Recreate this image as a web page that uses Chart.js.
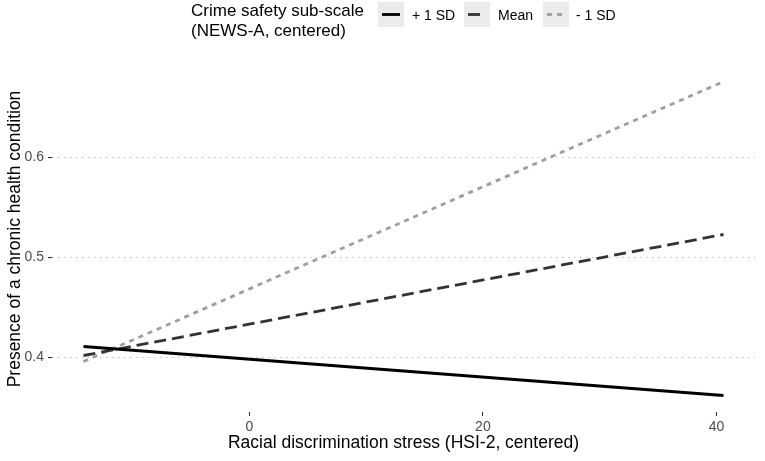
<!DOCTYPE html>
<html>
<head>
<meta charset="utf-8">
<script src="https://cdn.jsdelivr.net/npm/chart.js@4.4.0/dist/chart.umd.min.js"></script>
<style>
  html, body { margin: 0; padding: 0; background: #fff; }
  #wrap { width: 765px; height: 461px; position: relative; }
</style>
</head>
<body>
<div id="wrap"><canvas id="chart"></canvas></div>
<script>
// Racial discrimination stress (x) at the two ends of each fitted line
var stressValues = [-14.2, 40.6];
// Predicted presence of a chronic health condition
var plusOneSD = [0.411, 0.362];
var meanLevel = [0.402, 0.523];
var minusOneSD = [0.396, 0.676];
var seriesLabels = ["+ 1 SD", "Mean", "- 1 SD"];
var xTicks = [0, 20, 40];
var yTicks = [0.4, 0.5, 0.6];

var font = "'Liberation Sans', Arial, Helvetica, sans-serif";

function toPoints(ys) {
  return stressValues.map(function (x, i) {
    return { x: x, y: ys[i] };
  });
}

// Legend drawn like the ggplot one: title on the left, grey key boxes
var ggLegend = {
  id: "ggLegend",
  afterDraw: function (chart) {
    var ctx = chart.ctx;
    ctx.save();
    ctx.fillStyle = "#000";
    ctx.font = "17px " + font;
    ctx.textAlign = "left";
    ctx.textBaseline = "alphabetic";
    ctx.fillText("Crime safety sub-scale", 191, 16);
    ctx.fillText("(NEWS-A, centered)", 191, 36);

    var boxX = [378, 464, 543];
    var labelX = [412, 498, 576];
    chart.data.datasets.forEach(function (ds, i) {
      ctx.fillStyle = "#ebebeb";
      ctx.fillRect(boxX[i], 2, 26, 25);
      ctx.strokeStyle = ds.borderColor;
      ctx.lineWidth = ds.borderWidth;
      ctx.setLineDash(ds.borderDash || []);
      ctx.beginPath();
      ctx.moveTo(boxX[i] + 4, 14.5);
      ctx.lineTo(boxX[i] + 22, 14.5);
      ctx.stroke();
      ctx.setLineDash([]);
      ctx.fillStyle = "#000";
      ctx.font = "14px " + font;
      ctx.fillText(ds.label, labelX[i], 20);
    });
    ctx.restore();
  },
};

var ctx = document.getElementById("chart").getContext("2d");
var chart = new Chart(ctx, {
  type: "line",
  data: {
    datasets: [
      {
        label: seriesLabels[0],
        data: toPoints(plusOneSD),
        borderColor: "#000000",
        borderWidth: 2.8,
        pointRadius: 0,
      },
      {
        label: seriesLabels[1],
        data: toPoints(meanLevel),
        borderColor: "#333333",
        borderWidth: 2.8,
        borderDash: [12, 6],
        pointRadius: 0,
      },
      {
        label: seriesLabels[2],
        data: toPoints(minusOneSD),
        borderColor: "#9e9e9e",
        borderWidth: 2.8,
        borderDash: [5, 5],
        pointRadius: 0,
      },
    ],
  },
  options: {
    responsive: true,
    maintainAspectRatio: false,
    animation: false,
    layout: { padding: { top: 66, right: 10, left: 0, bottom: 0 } },
    plugins: {
      legend: { display: false },
      tooltip: { enabled: false },
    },
    scales: {
      x: {
        type: "linear",
        min: -16.9,
        max: 43.3,
        afterBuildTicks: function (scale) {
          scale.ticks = xTicks.map(function (v) { return { value: v }; });
        },
        afterFit: function (scale) {
          scale.height = 49;
        },
        grid: {
          drawOnChartArea: false,
          tickColor: "#333333",
          tickLength: 4,
          tickWidth: 1.1,
        },
        border: { display: false },
        ticks: {
          autoSkip: false,
          maxRotation: 0,
          padding: 3,
          color: "#4d4d4d",
          font: { family: font, size: 14 },
        },
        title: {
          display: true,
          text: "Racial discrimination stress (HSI-2, centered)",
          color: "#000",
          font: { family: font, size: 17.5 },
          padding: { top: 0, bottom: 7.5 },
        },
      },
      y: {
        type: "linear",
        min: 0.3455,
        max: 0.6915,
        afterBuildTicks: function (scale) {
          scale.ticks = yTicks.map(function (v) { return { value: v }; });
        },
        afterFit: function (scale) {
          scale.width = 52;
        },
        grid: {
          color: "#bdbdbd",
          lineWidth: 1.1,
          tickColor: "#333333",
          tickLength: 4,
          tickWidth: 1.1,
        },
        border: { display: false, dash: [1.5, 4.5] },
        ticks: {
          padding: 4,
          color: "#4d4d4d",
          font: { family: font, size: 14 },
          callback: function (v) { return v.toFixed(1); },
        },
        title: {
          display: true,
          text: "Presence of a chronic health condition",
          color: "#000",
          font: { family: font, size: 17.5 },
          padding: { top: 4.5, bottom: 0 },
        },
      },
    },
  },
  plugins: [ggLegend],
});
</script>
</body>
</html>
